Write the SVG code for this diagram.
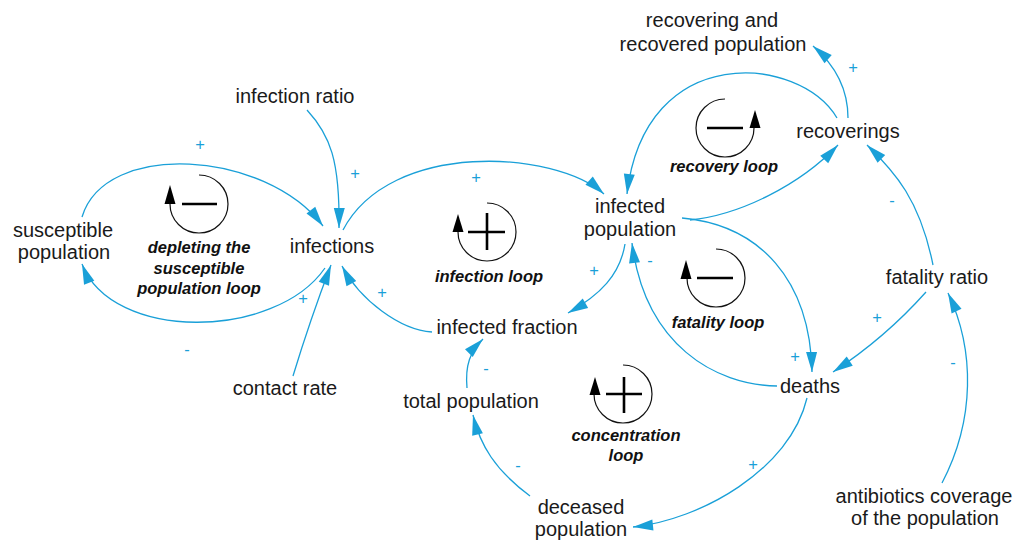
<svg xmlns="http://www.w3.org/2000/svg" width="1018" height="543" viewBox="0 0 1018 543">
<style>
.bg{fill:#ffffff}
.node{font-family:"Liberation Sans",Arial,sans-serif;font-size:20px;fill:#1a1a1a;text-anchor:middle}
.loopname{font-family:"Liberation Sans",Arial,sans-serif;font-size:16.5px;font-weight:bold;font-style:italic;fill:#111;text-anchor:middle}
.link{fill:none;stroke:#1aa0d8;stroke-width:1.3;marker-end:url(#arr)}
.pol{font-family:"Liberation Sans",Arial,sans-serif;font-size:16.5px;fill:#1aa0d8;text-anchor:middle}
.ring{fill:none;stroke:#111;stroke-width:1.2}
.sign{stroke:#000;stroke-width:2.6;fill:none}
.tip{fill:#000}
</style>
<defs>
<marker id="arr" markerUnits="userSpaceOnUse" viewBox="-21 -6 22 12" refX="0" refY="0" markerWidth="22" markerHeight="12" orient="auto">
<path d="M0,0 L-20,-5.5 L-20,5.5 Z" fill="#1aa0d8"/>
</marker>
</defs>
<rect class="bg" x="0" y="0" width="1018" height="543"/>

<g id="connectors">
<path class="link" d="M82,217 C105,140 265,150 323,226"/>
<path class="link" d="M325,268 C275,340 112,342 82,264"/>
<path class="link" d="M307,110 C330,135 340,160 339,228"/>
<path class="link" d="M293,376 Q310,320 331,265"/>
<path class="link" d="M432,332 C400,330 360,300 342,266"/>
<path class="link" d="M343,230 C390,140 555,150 604,194"/>
<path class="link" d="M625,244 C620,275 600,295 568,313"/>
<path class="link" d="M777,386 C715,385 645,345 632,243"/>
<path class="link" d="M682,218 C760,225 810,280 812,372"/>
<path class="link" d="M690,220 C740,215 800,185 838,145"/>
<path class="link" d="M837,118 C800,55 645,40 627,194"/>
<path class="link" d="M848,118 C848,90 835,65 813,46"/>
<path class="link" d="M933,265 C920,200 895,172 867,145"/>
<path class="link" d="M926,292 Q885,338 833,372"/>
<path class="link" d="M942,483 C975,420 975,350 948,293"/>
<path class="link" d="M807,398 C790,470 700,520 633,527"/>
<path class="link" d="M530,496 C495,470 480,445 473,415"/>
<path class="link" d="M467,388 C465,365 470,352 483,339"/>
<text class="pol" x="200" y="150">+</text>
<text class="pol" x="187" y="355">-</text>
<text class="pol" x="355" y="179">+</text>
<text class="pol" x="303" y="304">+</text>
<text class="pol" x="382" y="298">+</text>
<text class="pol" x="476" y="183">+</text>
<text class="pol" x="594" y="276">+</text>
<text class="pol" x="650" y="266">-</text>
<text class="pol" x="795" y="362">+</text>
<text class="pol" x="853" y="73">+</text>
<text class="pol" x="892" y="206">-</text>
<text class="pol" x="877" y="323">+</text>
<text class="pol" x="953" y="368">-</text>
<text class="pol" x="753" y="470">+</text>
<text class="pol" x="518" y="471">-</text>
<text class="pol" x="486" y="374">-</text>
</g>

<g id="susceptible-population"><text class="node" x="63" y="237">susceptible</text><text class="node" x="64" y="259">population</text></g>
<g id="infection-ratio"><text class="node" x="295" y="103">infection ratio</text></g>
<g id="infections"><text class="node" x="332" y="253">infections</text></g>
<g id="contact-rate"><text class="node" x="285" y="395">contact rate</text></g>
<g id="infected-population"><text class="node" x="630" y="213">infected</text><text class="node" x="630" y="236">population</text></g>
<g id="infected-fraction"><text class="node" x="507" y="334">infected fraction</text></g>
<g id="total-population"><text class="node" x="471" y="408">total population</text></g>
<g id="deceased-population"><text class="node" x="581" y="514">deceased</text><text class="node" x="581" y="536">population</text></g>
<g id="deaths"><text class="node" x="810" y="393">deaths</text></g>
<g id="fatality-ratio"><text class="node" x="937" y="284">fatality ratio</text></g>
<g id="antibiotics-coverage"><text class="node" x="924" y="503">antibiotics coverage</text><text class="node" x="925" y="525">of the population</text></g>
<g id="recoverings"><text class="node" x="848" y="138">recoverings</text></g>
<g id="recovering-and-recovered-population"><text class="node" x="712" y="27">recovering and</text><text class="node" x="713" y="51">recovered population</text></g>

<g id="loop-depleting">
<path class="ring" d="M199,175 A29,29 0 1,1 170,204"/>
<path class="tip" d="M170,185 L164.5,204 L175.5,204 Z"/>
<path class="sign" d="M182,204 H217"/>
<text class="loopname" x="199" y="253">depleting the</text>
<text class="loopname" x="199" y="274">susceptible</text>
<text class="loopname" x="199" y="294">population loop</text>
</g>
<g id="loop-infection">
<path class="ring" d="M487,203 A29,29 0 1,1 458,232"/>
<path class="tip" d="M458,214 L452.5,232 L463.5,232 Z"/>
<path class="sign" d="M468,232 H505 M487,213 V250"/>
<text class="loopname" x="489" y="282">infection loop</text>
</g>
<g id="loop-recovery">
<path class="ring" d="M725,99 A29,29 0 1,0 754,128"/>
<path class="tip" d="M755,110 L749.5,128 L760.5,128 Z"/>
<path class="sign" d="M707,128 H743"/>
<text class="loopname" x="724" y="172">recovery loop</text>
</g>
<g id="loop-fatality">
<path class="ring" d="M716,249 A29,29 0 1,1 687,278"/>
<path class="tip" d="M686,260 L680.5,279 L691.5,279 Z"/>
<path class="sign" d="M697,278 H733"/>
<text class="loopname" x="718" y="328">fatality loop</text>
</g>
<g id="loop-concentration">
<path class="ring" d="M623,365 A29,29 0 1,1 594,394"/>
<path class="tip" d="M595,377 L589.5,395 L600.5,395 Z"/>
<path class="sign" d="M606,394 H642 M624,377 V413"/>
<text class="loopname" x="626" y="441">concentration</text>
<text class="loopname" x="626" y="461">loop</text>
</g>
</svg>
